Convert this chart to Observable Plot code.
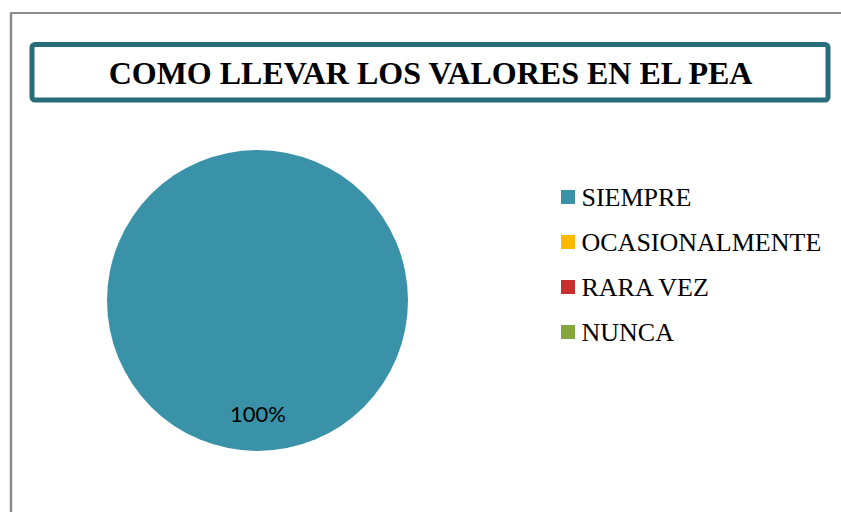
<!DOCTYPE html>
<html>
<head>
<meta charset="utf-8">
<script src="https://cdn.jsdelivr.net/npm/d3@7"></script>
<script src="https://cdn.jsdelivr.net/npm/@observablehq/plot@0.6"></script>
<style>
  html, body { margin: 0; padding: 0; background: #fff; overflow: hidden; }
  #chart svg { display: block; }
  .t-serif text { font-family: "Liberation Serif", "DejaVu Serif", serif !important; }
  .t-sans text { font-family: Lato, "Open Sans", sans-serif !important; }
</style>
</head>
<body>
<div id="chart"></div>
<script>
const title = "COMO LLEVAR LOS VALORES EN EL PEA";
const categories = ["SIEMPRE", "OCASIONALMENTE", "RARA VEZ", "NUNCA"];
const values = [100, 0, 0, 0];
const colors = ["#3a92a8", "#ffb800", "#c8302e", "#83a73a"];

const W = 841, H = 512;
const total = d3.sum(values);
const data = categories.map((c, i) => ({category: c, value: values[i], i}));
const arcs = d3.pie().sort(null).value(d => d.value)(data);
const labeled = arcs.filter(a => a.data.value > 0);

const cx = 257.5, cy = 300.5, R = 150.5;

function pieMark(index, scales) {
  const g = d3.create("svg:g");
  const arc = d3.arc().innerRadius(0).outerRadius(R);
  const X = scales.x(cx), Y = scales.y(cy);
  g.selectAll("path")
    .data(arcs.filter(a => a.data.value > 0))
    .join("path")
    .attr("transform", `translate(${X},${Y})`)
    .attr("d", arc)
    .attr("fill", d => scales.color(d.data.category));
  return g.node();
}

function labelPos(a) {
  const mid = (a.startAngle + a.endAngle) / 2;
  const full = a.endAngle - a.startAngle >= 2 * Math.PI - 1e-6;
  const rr = full ? 0.755 * R : 0.6 * R;
  const ang = full ? Math.PI : mid;
  return {x: cx + rr * Math.sin(ang), y: cy - rr * Math.cos(ang)};
}

const chart = Plot.plot({
  width: W,
  height: H,
  margin: 0,
  x: {domain: [0, W], range: [0, W], axis: null},
  y: {domain: [0, H], range: [0, H], axis: null},
  color: {domain: categories, range: colors},
  marks: [
    Plot.ruleX([10.5], {y1: 12.5, y2: H, stroke: "#8c8c8c", strokeWidth: 2.5}),
    Plot.ruleY([12.5], {x1: 10.5, x2: W, stroke: "#8c8c8c", strokeWidth: 2}),
    Plot.rect([title], {x1: 32, x2: 828, y1: 44.5, y2: 100, fill: "white", stroke: "#296c7a", strokeWidth: 5, rx: 3}),
    Plot.text([title], {x: 430, y: 73, text: d => d, fontFamily: "DejaVu Serif", fontWeight: "bold", fontSize: 32, fill: "#000", className: "t-serif"}),
    pieMark,
    Plot.text(labeled, {
      x: d => labelPos(d).x, y: d => labelPos(d).y,
      text: d => Math.round(d.data.value / total * 100) + "%",
      fontFamily: "Lato", fontSize: 22, fill: "#000", className: "t-sans"
    }),
    Plot.rect(data, {
      x1: 561, x2: 575,
      y1: d => 190 + 45 * d.i, y2: d => 204 + 45 * d.i,
      fill: "category"
    }),
    Plot.text(data, {
      x: 581, y: d => 197 + 45 * d.i,
      text: "category", textAnchor: "start",
      fontFamily: "Liberation Serif", fontSize: 26, fill: "#000", className: "t-serif"
    })
  ]
});
document.getElementById("chart").appendChild(chart);
</script>
</body>
</html>
